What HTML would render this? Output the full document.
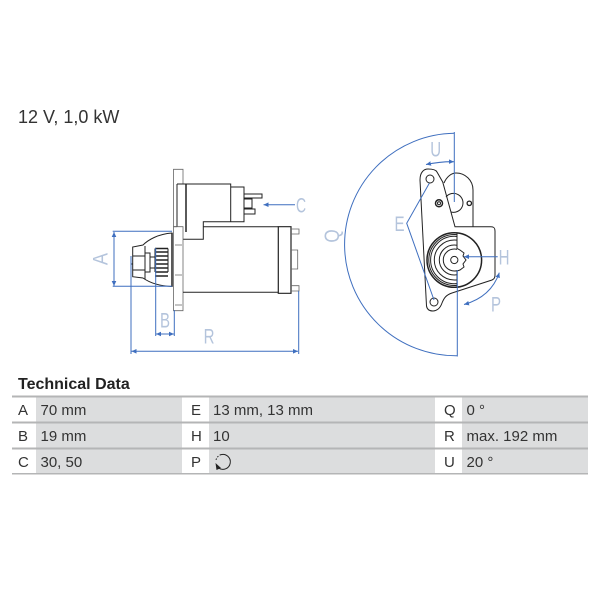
<!DOCTYPE html>
<html><head><meta charset="utf-8"><style>
html,body{margin:0;padding:0;background:#fff}
svg{display:block}
.k{fill:none;stroke:#222;stroke-width:1}
.g{fill:none;stroke:#666;stroke-width:.8}
.b{fill:none;stroke:#3f6fbf;stroke-width:1}
.l{font:21.500px "Liberation Sans",sans-serif;fill:#b4c4dc}
.t{font:15px "Liberation Sans",sans-serif;fill:#333}
</style></head><body>
<svg width="600" height="600" viewBox="0 0 600 600" xmlns="http://www.w3.org/2000/svg">
<defs>
<marker id="a" markerWidth="6" markerHeight="6" refX="5" refY="3" orient="auto-start-reverse"><path d="M0 .7L5 3L0 5.300z" fill="#3f6fbf"/></marker>
<clipPath id="lh"><rect x="420" y="225" width="37" height="70"/></clipPath>
</defs>
<text x="18" y="123" style="font:18px 'Liberation Sans',sans-serif;fill:#333">12 V, 1,0 kW</text>

<!-- side view -->
<g class="k">
<path class="g" d="M173.500 226.700V169.300H183V184M173.500 226.700H177"/>
<path d="M177 184V226.500M177 184H230.700V222M230.700 187H244V221.700H203.300V239.300H183"/>
<path d="M186 184V232" stroke-width="1.500"/>
<path class="g" d="M173.500 226.700H183V310.700H173.500Z"/>
<path d="M203.300 226.700H278.300M183 292.300H278.300"/>
<path d="M278.300 226.700H291V293.300H278.300Z" stroke-width="1.200"/>
<path class="g" d="M291 229H299V234H291M291 285.700H299V291H291M291 250H297.700V269H291"/>
<path d="M244 194H262V198H244M244 199H252V208H244M244 209H255V214H244"/>
<path d="M172 233C158 234 148 240 143 245L132.700 247V276.700L143 278C150 283 160 286 172 286.500Z"/>
<path d="M172 233V286.500" stroke-width="1.500"/>
<path d="M145 246V279M132.700 256H145M132.700 270H145M131 256.500V264H133M145 253H150V272H145M150 257H155M150 268H155"/>
<path d="M155 248.500H168M155 252H168M155 256H168M155 260H168M155 264H168M155 268H168M155 272H168M155 276H168" stroke-width="1.400"/>
<path d="M155 248.500V272M168 248.500V272"/>
<path class="g" d="M175 275H182M175 245H182M175 305H182"/>
</g>
<g class="b">
<path d="M112.700 231.300H172M112.700 286.300H172"/>
<path d="M114 232V286" marker-start="url(#a)" marker-end="url(#a)"/>
<path d="M155.700 248V336M174.300 310V336M131 256V354M298.700 291V354"/>
<path d="M156 334H174" marker-start="url(#a)" marker-end="url(#a)"/>
<path d="M131.500 351.300H298" marker-start="url(#a)" marker-end="url(#a)"/>
<path d="M295 204.700H263.500" marker-end="url(#a)"/>
</g>
<text class="l" transform="translate(107.300 259) rotate(-90) scale(.85 1)" text-anchor="middle">A</text>
<text class="l" transform="translate(165 327.700) scale(.7 1)" text-anchor="middle">B</text>
<text class="l" transform="translate(209 343.300) scale(.7 1)" text-anchor="middle">R</text>
<text class="l" transform="translate(301 212.700) scale(.65 1)" text-anchor="middle">C</text>

<!-- end view -->
<g class="k">
<path d="M420 180C420 172 424 169 428 169C433 169 436 170 437 172L442.700 182L455 226.700H491C494 226.700 495 228 495 231V275C495 278 494 279 492 280L452 293C446 295 444 298 442 303C440 309 436 311 433 311C429 311 427 309 426.500 306Z"/>
<circle cx="430" cy="179" r="4"/><circle cx="434" cy="302" r="4"/>
<path d="M444 183C447 176 452 173 456 173C465 173 473 180 473 190V226.700"/>
<path d="M446 197A9.500 9.500 0 1 1 451 212"/>
<circle cx="439" cy="203.300" r="3.500" stroke-width="1.500"/><circle cx="439" cy="203.300" r="1.500"/>
<circle cx="469.300" cy="203.300" r="2.200" stroke-width="1.300"/>
<circle cx="454.300" cy="260" r="27.300" stroke-width="1.500"/>
<g clip-path="url(#lh)">
<circle cx="454.300" cy="260" r="25.500"/>
<circle cx="454.300" cy="260" r="23.700"/>
<circle cx="454.300" cy="260" r="20"/>
<circle cx="454.300" cy="260" r="15"/>
<circle cx="454.300" cy="260" r="11"/>
</g>
<path d="M457 232.700V248.500L460 250L464 253L463 256L466 260L463 264L464 267L460 270L457 271V287.300"/>
<circle cx="454.300" cy="260" r="3.600"/>
</g>
<g class="b">
<path d="M454.300 133.300A111 111 0 0 0 457.300 355.700"/>
<path d="M454.300 132V202M457.300 270V356.500"/>
<path d="M426 164.500Q440 161.500 454 161.700" marker-start="url(#a)" marker-end="url(#a)"/>
<path d="M429.300 183.300L406.700 223.300L434 300"/>
<path d="M497.700 256.700H464" marker-end="url(#a)"/>
<path d="M499.300 272.700Q491 297 464 304.500" marker-start="url(#a)" marker-end="url(#a)"/>
</g>
<text class="l" transform="translate(435.700 156.700) scale(.7 1)" text-anchor="middle">U</text>
<text class="l" transform="translate(339 236) rotate(-90) scale(.8 1)" text-anchor="middle">Q</text>
<text class="l" transform="translate(399.500 231) scale(.7 1)" text-anchor="middle">E</text>
<text class="l" transform="translate(504 264.300) scale(.7 1)" text-anchor="middle">H</text>
<text class="l" transform="translate(496 311.700) scale(.7 1)" text-anchor="middle">P</text>

<!-- table -->
<text x="18" y="389" style="font:bold 16px 'Liberation Sans',sans-serif;fill:#222">Technical Data</text>
<g fill="#dcddde">
<rect x="36" y="396" width="146" height="78"/>
<rect x="209" y="396" width="226" height="78"/>
<rect x="462" y="396" width="126" height="78"/>
</g>
<g fill="#b4b5b6">
<rect x="12" y="395.500" width="576" height="2"/>
<rect x="12" y="421.500" width="576" height="2"/>
<rect x="12" y="447.500" width="576" height="2"/>
<rect x="12" y="473" width="576" height="1.500"/>
</g>
<g class="t">
<text class="t" x="18" y="415">A</text><text class="t" x="40.500" y="415">70 mm</text>
<text class="t" x="18" y="441">B</text><text class="t" x="40.500" y="441">19 mm</text>
<text class="t" x="18" y="467">C</text><text class="t" x="40.500" y="467">30, 50</text>
<text class="t" x="191" y="415">E</text><text class="t" x="213" y="415">13 mm, 13 mm</text>
<text class="t" x="191" y="441">H</text><text class="t" x="213" y="441">10</text>
<text class="t" x="191" y="467">P</text>
<text class="t" x="444" y="415">Q</text><text class="t" x="466.500" y="415">0 °</text>
<text class="t" x="444" y="441">R</text><text class="t" x="466.500" y="441">max. 192 mm</text>
<text class="t" x="444" y="467">U</text><text class="t" x="466.500" y="467">20 °</text>
</g>
<path d="M221 454.600A7.500 7.500 0 1 1 218.500 468" fill="none" stroke="#222" stroke-width="1"/>
<path d="M221 454.600A7.500 7.500 0 0 0 216 460" fill="none" stroke="#222" stroke-width="1" stroke-dasharray="1.500 1.500"/>
<path d="M215.500 463L221 468L216.500 470Z" fill="#222"/>
</svg>
</body></html>
